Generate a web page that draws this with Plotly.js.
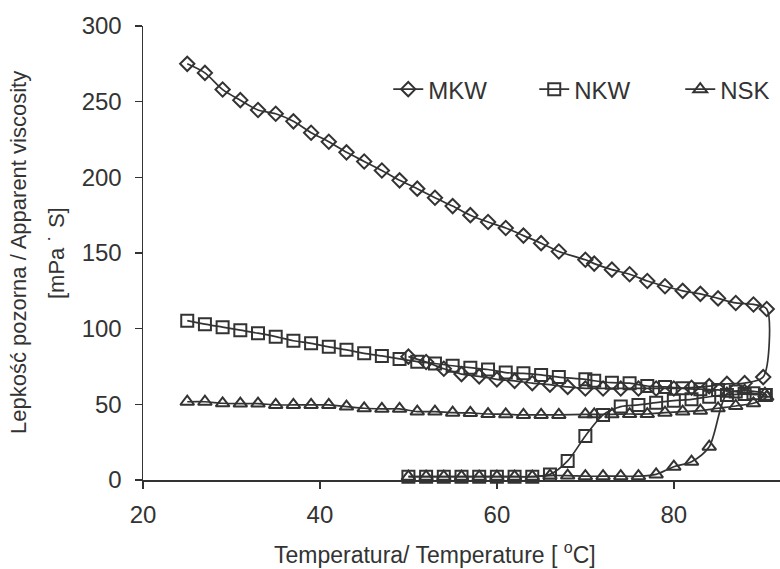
<!DOCTYPE html>
<html>
<head>
<meta charset="utf-8">
<script src="https://cdn.plot.ly/plotly-3.0.1.min.js"></script>
<style>html,body{margin:0;padding:0;background:#fff;}#chart{width:780px;height:569px;}</style>
</head>
<body>
<div id="chart"></div>
<script>
// MKW
const mkwT = [25,27,29,31,33,35,37,39,41,43,45,47,49,51,53,55,57,59,61,63,65,67,70,71,73,75,77,79,81,83,85,87,89,90.5,
              90.1,88,86,84,82,80,78,76,74,72,70,68,66,64,62,60,58,56,54,52,50];
const mkwV = [275,269,258,251,244.5,242,237,229.5,223.5,216.5,210.5,204.5,198,192.5,186.5,181,175,170.5,166.5,161.5,156.5,151,145.5,143,139,136,131.5,128,125,123,120,117,116,113,
              68,64,63.5,62,61,60.5,60.5,60.5,60.5,60.5,60.5,61.5,63,64,65.5,66.5,68.5,70,73.5,78,81.5];
// NKW
const nkwT = [25,27,29,31,33,35,37,39,41,43,45,47,49,51,53,55,57,59,61,63,65,67,70,71,73,75,77,79,81,83,85,87,89,90.4,
              90.3,88,86,84,82,80,78,76,74,72,70,68,66,64,62,60,58,56,54,52,50];
const nkwV = [105.3,103,101,99,97,94.7,92,90.3,88,86,83.7,82,80,78.2,77,75.5,74.2,73,71,70.5,69.4,68,66.5,65.6,64.3,64,62.1,61.5,60.6,60,59.5,58.4,57.3,56.2,
              56.2,56.8,56.2,55,53.3,52.4,51.1,49.6,48.5,43,29.1,12.6,3.7,2.2,2.2,2.2,2.2,2.2,2.2,2.2,2.2];
// NSK
const nskT = [25,27,29,31,33,35,37,39,41,43,45,47,49,51,53,55,57,59,61,63,65,67,70,71,73,75,77,79,81,83,85,87,89,90.5,
              90.3,88,86,84,82,80,78,76,74,72,70,68,66,64,62,60,58,56,54,52,50];
const nskV = [51.7,51.7,50.7,50.5,50.5,49.6,49.6,49.6,49.6,48.5,47.4,47,47,45.2,45.2,44.5,44.3,43.6,43.4,43,43,43,43.4,43.4,43.4,43.6,43.6,44.5,45.2,45.8,47.4,48.9,50.7,55,
              57,59,57,22,12.1,8.8,3.7,2.5,2.5,2.5,2.5,2.9,2.9,2.2,2.2,2.2,2.2,2.2,2.2,2.2,2.2];

const seriesNames = ['MKW','NKW','NSK'];
const xTicks = [20,40,60,80];
const yTicks = [0,50,100,150,200,250,300];

const ink = '#333333';
const font = 'Liberation Sans, Arial, sans-serif';

function tr(name, x, y, sym, size) {
  return {
    type: 'scatter', mode: 'lines+markers', name: name, x: x, y: y,
    line: {color: ink, width: 1.7, shape: 'spline', smoothing: 0.8},
    marker: {symbol: sym, size: size, color: ink, line: {color: ink, width: 2}},
    cliponaxis: false
  };
}

const data = [
  tr(seriesNames[0], mkwT, mkwV, 'diamond-open', 11),
  tr(seriesNames[1], nkwT, nkwV, 'square-open', 12),
  tr(seriesNames[2], nskT, nskV, 'triangle-up-open', 12)
];

const layout = {
  width: 780, height: 569,
  margin: {l: 143, r: 0, t: 26, b: 89, autoexpand: false},
  paper_bgcolor: '#ffffff', plot_bgcolor: '#ffffff',
  font: {family: font, size: 23, color: ink},
  showlegend: true,
  legend: {orientation: 'h', x: 0.385, y: 0.86, xanchor: 'left', yanchor: 'middle',
           bgcolor: 'rgba(0,0,0,0)', font: {size: 24, color: ink},
           entrywidth: 101, entrywidthmode: 'pixels'},
  xaxis: {
    range: [20, 92], tickvals: xTicks, ticktext: xTicks.map(String),
    showline: true, linecolor: ink, linewidth: 1.5, ticks: 'outside', ticklen: 7, tickcolor: ink, tickwidth: 1.5,
    showgrid: false, zeroline: false, tickfont: {size: 24, color: ink}, ticklabelstandoff: 6
  },
  yaxis: {
    range: [0, 300], tickvals: yTicks, ticktext: yTicks.map(String),
    showline: true, linecolor: ink, linewidth: 1.5, ticks: 'outside', ticklen: 7, tickcolor: ink, tickwidth: 1.5,
    showgrid: false, zeroline: false, tickfont: {size: 24, color: ink}, ticklabelstandoff: 8
  },
  annotations: [
    {text: 'Lepkość pozorna / Apparent viscosity', xref: 'paper', yref: 'paper',
     x: (18 - 143) / 637, y: 0.5, xanchor: 'center', yanchor: 'middle', textangle: -90, showarrow: false,
     font: {size: 22, color: ink}},
    {text: '[mPa ˙ S]', xref: 'paper', yref: 'paper',
     x: (56 - 143) / 637, y: 0.5, xanchor: 'center', yanchor: 'middle', textangle: -90, showarrow: false,
     font: {size: 22, color: ink}},
    {text: 'Temperatura/ Temperature [ <sup>o</sup>C]', xref: 'paper', yref: 'paper',
     x: 0.458, y: -0.161, xanchor: 'center', yanchor: 'middle', showarrow: false,
     font: {size: 23, color: ink}}
  ]
};

Plotly.newPlot('chart', data, layout, {displayModeBar: false, staticPlot: true});
</script>
</body>
</html>
